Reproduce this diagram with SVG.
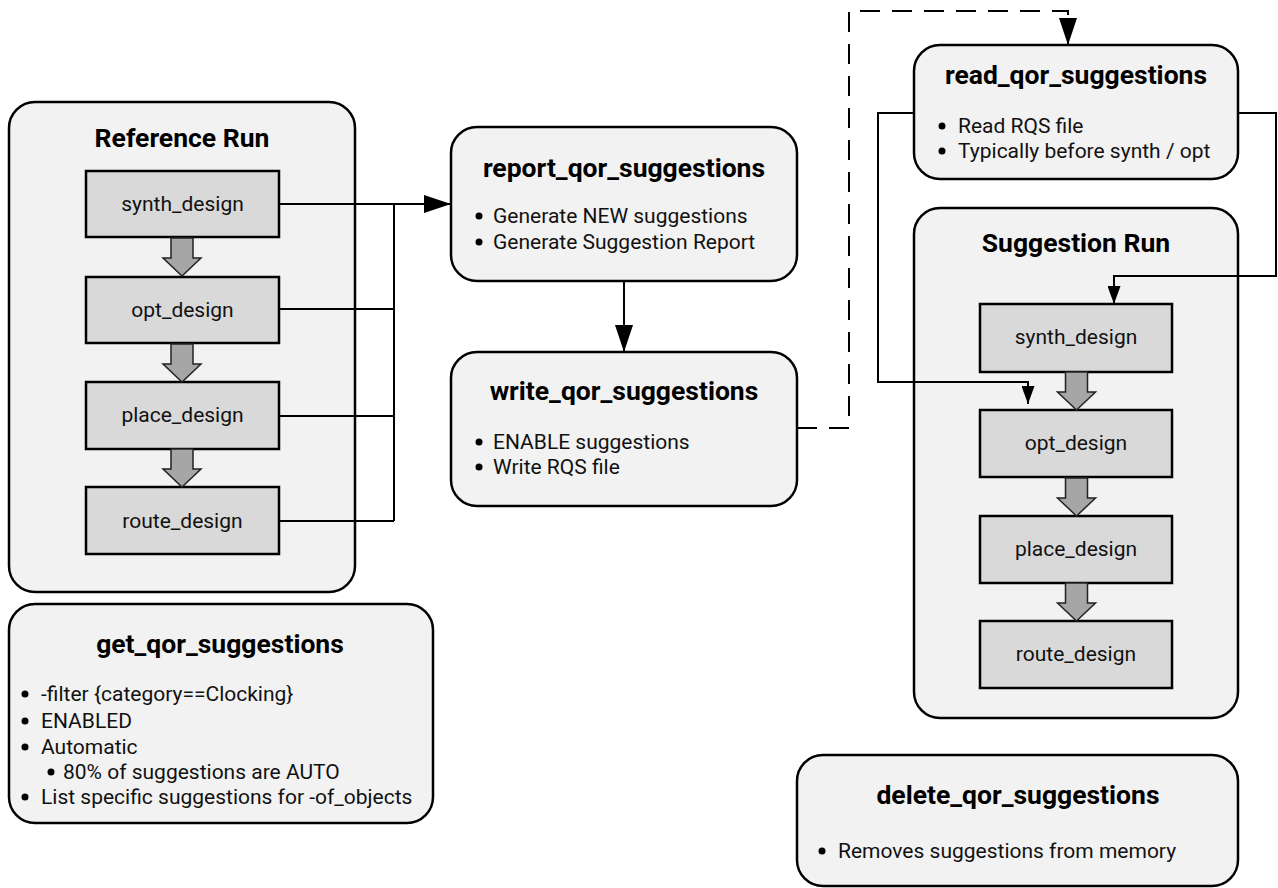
<svg xmlns="http://www.w3.org/2000/svg" width="1278" height="888" viewBox="0 0 1278 888">
<style>
.big{fill:#f2f2f2;stroke:#000;stroke-width:2.5}
.step{fill:#d9d9d9;stroke:#000;stroke-width:2.5}
.blk{fill:#a6a6a6;stroke:#222;stroke-width:1.5}
.t{font-family:Roboto,"Liberation Sans",sans-serif;font-weight:bold;font-size:26.5px;fill:#000;text-anchor:middle}
.s{font-family:Roboto,"Liberation Sans",sans-serif;font-size:21px;fill:#111;text-anchor:middle}
.b{font-family:Roboto,"Liberation Sans",sans-serif;font-size:21px;fill:#111}
.c{fill:none;stroke:#000;stroke-width:2}
.d{fill:none;stroke:#000;stroke-width:2;stroke-dasharray:20 12}
</style>
<defs>
<marker id="ah" markerWidth="18" markerHeight="13" refX="18" refY="6.5" orient="auto" markerUnits="userSpaceOnUse" viewBox="0 0 18 13">
<path d="M0,0 L18,6.5 L0,13 Z" fill="#000"/>
</marker>
<marker id="ahl" markerWidth="27" markerHeight="18" refX="27" refY="9" orient="auto" markerUnits="userSpaceOnUse" viewBox="0 0 27 18">
<path d="M0,0 L27,9 L0,18 Z" fill="#000"/>
</marker>
<g id="blkarrow"><path class="blk" d="M-11,0 H11 V20 H19 L0,38 L-19,20 H-11 Z"/></g>
</defs>

<g id="reference-run">
<rect class="big" x="9" y="102" width="346" height="490" rx="26"/>
<text class="t" x="182" y="147">Reference Run</text>
</g>
<g id="ref-synth"><rect class="step" x="86" y="171" width="193" height="66"/><text class="s" x="182.5" y="211">synth_design</text></g>
<g id="ref-opt"><rect class="step" x="86" y="277" width="193" height="66"/><text class="s" x="182.5" y="317">opt_design</text></g>
<g id="ref-place"><rect class="step" x="86" y="382" width="193" height="67"/><text class="s" x="182.5" y="422">place_design</text></g>
<g id="ref-route"><rect class="step" x="86" y="487" width="193" height="67"/><text class="s" x="182.5" y="528">route_design</text></g>
<g id="ref-arrows">
<use href="#blkarrow" x="182" y="238"/>
<use href="#blkarrow" x="182" y="344"/>
<use href="#blkarrow" x="182" y="449"/>
</g>

<g id="report">
<rect class="big" x="451" y="127" width="346" height="154" rx="26"/>
<text class="t" x="624" y="177">report_qor_suggestions</text>
<circle cx="479" cy="216" r="3.5"/><text class="b" x="493" y="223">Generate NEW suggestions</text>
<circle cx="479" cy="242" r="3.5"/><text class="b" x="493" y="249">Generate Suggestion Report</text>
</g>

<g id="write">
<rect class="big" x="451" y="352" width="346" height="154" rx="26"/>
<text class="t" x="624" y="400">write_qor_suggestions</text>
<circle cx="479" cy="442" r="3.5"/><text class="b" x="493" y="449">ENABLE suggestions</text>
<circle cx="479" cy="467" r="3.5"/><text class="b" x="493" y="474">Write RQS file</text>
</g>

<g id="read">
<rect class="big" x="914" y="45" width="324" height="134" rx="26"/>
<text class="t" x="1076" y="84">read_qor_suggestions</text>
<circle cx="942" cy="126" r="3.5"/><text class="b" x="958" y="133">Read RQS file</text>
<circle cx="942" cy="151" r="3.5"/><text class="b" x="958" y="158">Typically before synth / opt</text>
</g>

<g id="suggestion-run">
<rect class="big" x="914" y="208" width="324" height="510" rx="26"/>
<text class="t" x="1076" y="252">Suggestion Run</text>
</g>
<g id="sug-synth"><rect class="step" x="980" y="304" width="192" height="68"/><text class="s" x="1076" y="344">synth_design</text></g>
<g id="sug-opt"><rect class="step" x="980" y="410" width="192" height="67"/><text class="s" x="1076" y="450">opt_design</text></g>
<g id="sug-place"><rect class="step" x="980" y="516" width="192" height="67"/><text class="s" x="1076" y="556">place_design</text></g>
<g id="sug-route"><rect class="step" x="980" y="621" width="192" height="67"/><text class="s" x="1076" y="661">route_design</text></g>
<g id="sug-arrows">
<use href="#blkarrow" x="1076.5" y="372"/>
<use href="#blkarrow" x="1076.5" y="478"/>
<use href="#blkarrow" x="1076.5" y="583"/>
</g>

<g id="get">
<rect class="big" x="9" y="604" width="424" height="219" rx="26"/>
<text class="t" x="220" y="653">get_qor_suggestions</text>
<circle cx="25" cy="694" r="3.5"/><text class="b" x="41" y="701">-filter {category==Clocking}</text>
<circle cx="25" cy="721" r="3.5"/><text class="b" x="41" y="728">ENABLED</text>
<circle cx="25" cy="747" r="3.5"/><text class="b" x="41" y="754">Automatic</text>
<circle cx="51" cy="772" r="3.5"/><text class="b" x="63" y="779">80% of suggestions are AUTO</text>
<circle cx="25" cy="797" r="3.5"/><text class="b" x="41" y="804">List specific suggestions for -of_objects</text>
</g>

<g id="delete">
<rect class="big" x="797" y="755" width="441" height="131" rx="26"/>
<text class="t" x="1018" y="804">delete_qor_suggestions</text>
<circle cx="822" cy="851" r="3.5"/><text class="b" x="838" y="858">Removes suggestions from memory</text>
</g>

<g id="connectors">
<path class="c" d="M279,204 H451" marker-end="url(#ahl)"/>
<path class="c" d="M279,309 H394 M279,416 H394 M279,521 H394 M394,204 V521"/>
<path class="c" d="M624,281 V352" marker-end="url(#ahl)"/>
<path class="d" d="M797,428 H849 V11 H1068 V45" marker-end="url(#ahl)"/>
<path class="c" d="M1238,113 H1276 V276 H1114 V304" marker-end="url(#ah)"/>
<path class="c" d="M914,113 H878 V382 H1028 V404" marker-end="url(#ah)"/>
</g>
</svg>
